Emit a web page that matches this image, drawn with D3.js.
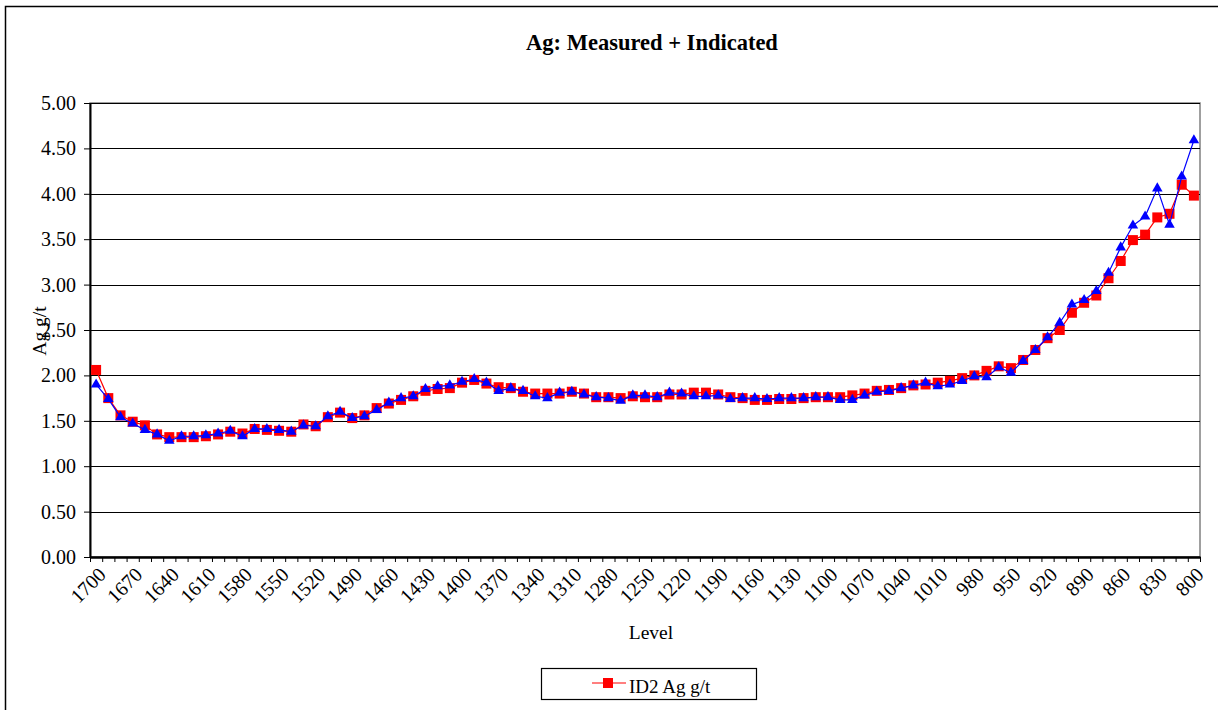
<!DOCTYPE html>
<html>
<head>
<meta charset="utf-8">
<script src="https://cdn.jsdelivr.net/npm/d3@7"></script>
<style>
  body { margin: 0; background: #fff; }
  svg text { font-family: "Liberation Serif", "DejaVu Serif", serif !important; fill: #000; }
</style>
</head>
<body>
<script>
// levels, 1700 down to 800 every 10
var levels = d3.range(1700, 799, -10);

// ID2 Ag g/t (red squares)
var id2 = [2.06, 1.75, 1.56, 1.49, 1.45, 1.35, 1.32, 1.32, 1.32, 1.33,
           1.35, 1.38, 1.36, 1.41, 1.40, 1.39, 1.38, 1.46, 1.44, 1.54,
           1.59, 1.53, 1.56, 1.64, 1.69, 1.73, 1.77, 1.83, 1.85, 1.86,
           1.92, 1.95, 1.91, 1.87, 1.86, 1.82, 1.80, 1.80, 1.80, 1.82,
           1.80, 1.76, 1.76, 1.75, 1.77, 1.76, 1.76, 1.79, 1.79, 1.81,
           1.81, 1.79, 1.76, 1.75, 1.73, 1.73, 1.74, 1.74, 1.75, 1.76,
           1.76, 1.76, 1.78, 1.80, 1.83, 1.84, 1.86, 1.89, 1.90, 1.92,
           1.94, 1.97, 2.00, 2.05, 2.10, 2.08, 2.17, 2.28, 2.41, 2.50,
           2.69, 2.80, 2.88, 3.07, 3.26, 3.49, 3.55, 3.74, 3.78, 4.10,
           3.98];

// second series (blue triangles)
var blue = [1.90, 1.74, 1.54, 1.47, 1.40, 1.35, 1.28, 1.33, 1.33, 1.34,
            1.36, 1.39, 1.33, 1.41, 1.41, 1.40, 1.38, 1.45, 1.44, 1.55,
            1.60, 1.53, 1.55, 1.62, 1.70, 1.75, 1.77, 1.85, 1.88, 1.89,
            1.93, 1.96, 1.92, 1.83, 1.86, 1.83, 1.77, 1.75, 1.81, 1.82,
            1.79, 1.76, 1.75, 1.72, 1.78, 1.78, 1.76, 1.81, 1.80, 1.77,
            1.77, 1.78, 1.74, 1.75, 1.75, 1.74, 1.75, 1.75, 1.75, 1.76,
            1.76, 1.73, 1.73, 1.78, 1.82, 1.83, 1.86, 1.89, 1.92, 1.88,
            1.90, 1.94, 1.99, 1.98, 2.09, 2.03, 2.16, 2.28, 2.42, 2.58,
            2.78, 2.83, 2.93, 3.13, 3.41, 3.65, 3.75, 4.06, 3.66, 4.19,
            4.59];

var yTicks = [0, 0.5, 1, 1.5, 2, 2.5, 3, 3.5, 4, 4.5, 5];

var margin = {top: 103, right: 18, bottom: 153, left: 90},
    width = 1218 - margin.left - margin.right,
    height = 710 - margin.top - margin.bottom;

var root = d3.select("body").append("svg")
    .attr("width", 1218)
    .attr("height", 710);

// outer chart border (runs off right / bottom)
root.append("rect")
    .attr("x", 5.5).attr("y", 6.5)
    .attr("width", 1230).attr("height", 720)
    .attr("fill", "none").attr("stroke", "#000").attr("stroke-width", 1.5);

var svg = root.append("g")
    .attr("transform", "translate(" + margin.left + "," + margin.top + ")");

var x = d3.scaleBand().domain(levels).range([0, width]).padding(0);
var xEdge = d3.scaleLinear().domain([0, levels.length]).range([0, width]);
var y = d3.scaleLinear().domain([0, 5]).range([height, 0]);

function cx(d, i) { return x(levels[i]) + x.bandwidth() / 2; }

// plot area border (grey top / right)
svg.append("rect")
    .attr("x", 0).attr("y", 0)
    .attr("width", width).attr("height", height)
    .attr("fill", "none").attr("stroke", "#808080").attr("stroke-width", 1.5);

// gridlines
svg.append("g").selectAll("line")
    .data(yTicks.slice(1))
    .enter().append("line")
    .attr("x1", 0).attr("x2", width)
    .attr("y1", function(d) { return Math.round(y(d)) + 0.5; })
    .attr("y2", function(d) { return Math.round(y(d)) + 0.5; })
    .attr("stroke", "#000").attr("stroke-width", 1.2);

// y axis
var yAxis = svg.append("g")
    .call(d3.axisLeft(y).tickValues(yTicks).tickSize(6).tickSizeOuter(0)
      .tickFormat(d3.format(".2f")));
yAxis.select(".domain").attr("stroke-width", 2);
yAxis.selectAll("text")
    .attr("font-size", 20)
    .attr("x", -14);

// x axis tick marks at category edges
var xTickAxis = svg.append("g")
    .attr("transform", "translate(0," + height + ")")
    .call(d3.axisBottom(xEdge).tickValues(d3.range(levels.length + 1))
      .tickSize(5).tickSizeOuter(0).tickFormat(""));
xTickAxis.select(".domain").attr("stroke-width", 2.5);

// x labels every 30
svg.append("g")
    .selectAll("text")
    .data(levels.filter(function(d, i) { return i % 3 === 0; }))
    .enter().append("text")
    .attr("transform", function(d) {
      return "translate(" + (x(d) + x.bandwidth() / 2 + 6) + "," + (height + 14) + ") rotate(-45)";
    })
    .attr("text-anchor", "end")
    .attr("dy", "0.35em")
    .attr("font-size", 20)
    .text(function(d) { return d; });

// lines
var line = d3.line()
    .x(function(d, i) { return cx(d, i); })
    .y(function(d) { return y(d); });

svg.append("path").datum(id2)
    .attr("fill", "none").attr("stroke", "#ff0000").attr("stroke-width", 1.2)
    .attr("d", line);
svg.append("g").selectAll("rect")
    .data(id2).enter().append("rect")
    .attr("x", function(d, i) { return cx(d, i) - 5; })
    .attr("y", function(d) { return y(d) - 5; })
    .attr("width", 10).attr("height", 10)
    .attr("fill", "#ff0000");

svg.append("path").datum(blue)
    .attr("fill", "none").attr("stroke", "#0000ff").attr("stroke-width", 1.2)
    .attr("d", line);
var tri = d3.symbol().type(d3.symbolTriangle).size(48);
svg.append("g").selectAll("path")
    .data(blue).enter().append("path")
    .attr("transform", function(d, i) { return "translate(" + cx(d, i) + "," + y(d) + ")"; })
    .attr("d", tri)
    .attr("fill", "#0000ff");

// title
root.append("text")
    .attr("x", 652).attr("y", 50)
    .attr("text-anchor", "middle")
    .attr("font-size", 22.5)
    .attr("font-weight", "bold")
    .text("Ag: Measured + Indicated");

// axis titles
root.append("text")
    .attr("x", 651).attr("y", 639)
    .attr("text-anchor", "middle")
    .attr("font-size", 19.5)
    .text("Level");
root.append("text")
    .attr("transform", "translate(46,331) rotate(-90)")
    .attr("text-anchor", "middle")
    .attr("font-size", 19.5)
    .text("Ag g/t");

// legend
var lg = root.append("g").attr("transform", "translate(541,668)");
lg.append("rect")
    .attr("x", 0.5).attr("y", 0.5).attr("width", 215).attr("height", 31)
    .attr("fill", "#fff").attr("stroke", "#000").attr("stroke-width", 1.2);
lg.append("line")
    .attr("x1", 51).attr("x2", 85).attr("y1", 15).attr("y2", 15)
    .attr("stroke", "#ff0000").attr("stroke-width", 1.2);
lg.append("rect")
    .attr("x", 62).attr("y", 10).attr("width", 10).attr("height", 10)
    .attr("fill", "#ff0000");
lg.append("text")
    .attr("x", 88).attr("y", 25)
    .attr("font-size", 19)
    .text("ID2 Ag g/t");
</script>
</body>
</html>
